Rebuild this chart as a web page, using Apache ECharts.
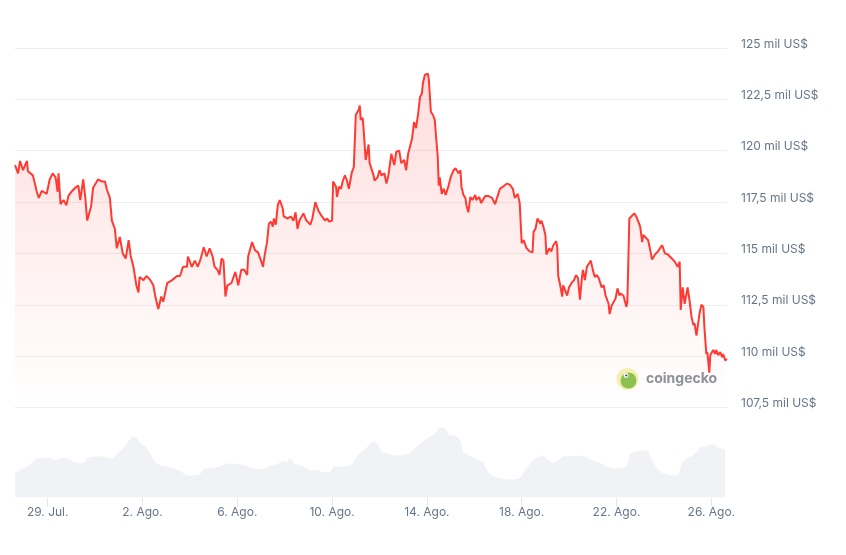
<!DOCTYPE html>
<html><head><meta charset="utf-8">
<script src="https://cdn.jsdelivr.net/npm/echarts@6/dist/echarts.min.js"></script>
<style>html,body{margin:0;padding:0;background:#fff}#c{width:846px;height:555px}</style>
</head><body><div id="c"></div>
<script>
// hours since 27 Jul 00:00, price in thousands of US$
const pricePoints = [
[15,119.3],[18,118.9],[20,119.5],[23,119.05],[27,119.5],[28,119.0],[33,118.8],[37,118.0],[39,117.7],[42,118.05],[47,117.9],[50,118.6],[53,118.9],[56,118.7],[58,118.0],[59,118.9],[61,117.4],[64,117.6],[67,117.35],[69,117.8],[72,118.0],[76,118.2],[79,118.3],[81,117.6],[84,118.6],[86,117.75],[88,116.6],[92,117.3],[94,118.2],[99,118.6],[103,118.5],[106,118.5],[108,118.1],[111,117.7],[113,116.6],[116,116.2],[118,115.25],[121,115.8],[124,115.0],[127,114.75],[130,115.65],[132,114.9],[135,114.3],[138,113.4],
[140,113.1],[141,113.85],[145,113.7],[148,113.9],[152,113.7],[155,113.45],[157,112.9],[160,112.3],[163,112.9],[165,112.65],[169,113.55],[174,113.7],[179,113.9],[182,113.9],[185,114.35],[189,114.35],[190,114.85],[194,114.35],[197,114.65],[200,114.35],[203,114.75],[206,115.3],[209,114.85],[212,115.25],[215,114.85],[217,114.35],[220,114.2],[222,113.95],[224,114.75],[226,114.65],[228,112.9],[230,113.45],[234,113.55],[238,114.1],[241,113.45],[244,114.2],[247,114.2],[250,113.95],[251,114.85],[255,115.55],[258,115.15],[261,115.05],[264,114.65],[266,114.35],
[268,115.0],[270,115.5],[272,116.45],[274,116.55],[276,116.3],[277,116.7],[279,116.4],[281,117.35],[283,117.6],[286,117.2],[287,116.8],[291,116.7],[294,116.8],[297,116.6],[299,117.0],[301,116.2],[303,116.6],[307,116.95],[310,116.6],[314,116.4],[316,116.7],[319,117.5],[322,117.1],[325,116.85],[329,116.6],[331,116.7],[333,116.55],[336,116.6],[337,118.5],[340,118.25],[341,117.75],[343,118.25],[345,118.15],[347,118.55],[349,118.8],[351,118.55],[353,118.15],[356,118.95],[358,119.2],[360,121.75],[363,122.0],[364,122.2],[365,121.5],[367,121.6],[368,121.0],[370,119.55],[372,120.05],[373,120.3],[374,119.4],[376,119.45],[378,118.8],[379,118.55],[382,118.7],[384,119.05],[386,118.8],[389,118.9],[391,118.4],
[393,118.8],[396,119.85],[399,119.3],[401,119.95],[404,120.0],[406,119.4],[409,119.55],[411,119.05],[413,119.85],[417,120.6],[419,121.4],[421,121.1],[423,121.75],[425,122.6],[427,122.8],[428,123.3],[430,123.7],[433,123.75],[434,123.45],[436,121.9],[438,121.75],[440,121.5],[441,120.85],[443,119.7],[444,118.3],[445,118.7],[447,117.9],[449,118.15],[451,117.85],[454,118.3],[456,118.7],[459,119.05],[461,119.15],[464,118.9],[466,119.05],[467,118.25],[469,117.85],[471,117.7],[472,117.35],[474,117.0],[476,117.75],[478,117.6],[481,117.85],[482,117.6],[485,117.75],[487,117.45],[491,117.8],[494,117.8],[498,117.7],[501,117.4],[504,117.85],
[506,118.15],[509,118.25],[513,118.4],[516,118.35],[519,118.15],[521,117.7],[524,117.9],[526,117.45],[528,115.5],[530,115.65],[533,115.25],[536,115.1],[539,115.05],[540,116.05],[542,116.2],[544,116.7],[547,116.45],[548,116.6],[550,116.3],[552,115.9],[553,114.95],[556,115.25],[558,115.1],[560,115.4],[563,115.6],[564,115.3],[565,113.9],[567,113.45],[569,112.9],[570,113.45],[572,113.2],[574,112.95],[576,113.35],[579,113.6],[581,113.7],[583,113.95],[585,113.8],[587,112.75],[589,113.85],[590,114.2],[592,113.7],[594,114.35],[596,114.5],[598,114.65],[600,114.2],[602,113.85],[604,113.95],[606,113.8],[609,113.35],[611,113.45],[613,112.95],[616,112.55],[617,112.05],[619,112.45],[621,112.45],[623,112.8],[625,113.3],[627,112.95],[628,113.05],[631,112.95],[634,112.4],[635,112.65],
[637,116.7],[639,116.8],[642,116.95],[644,116.8],[646,116.85],[648,116.3],[650,115.55],[651,115.9],[654,115.75],[656,115.65],[658,115.2],[660,114.7],[663,114.95],[666,115.1],[670,115.4],[671,115.3],[673,115.0],[676,114.95],[680,114.75],[683,114.6],[686,114.35],[688,114.6],[689,112.25],[691,113.35],[693,112.55],[696,113.35],[698,112.7],[700,111.9],[702,111.5],[703,111.6],[705,111.0],[706,111.35],[708,112.05],[710,112.5],[712,112.4],[713,111.4],[715,110.1],[716,110.2],[718,109.2],[719,110.05],[722,110.3],[724,110.1],[725,110.3],[727,110.05],[729,110.2],[731,109.95],[732,110.1],[734,109.8],[736,109.85]
];
// hours since 27 Jul 00:00, 24h volume in billions of US$
const volumePoints = [
[15,38],[20,41],[27,46],[33,53],[37,59],[44,59],[50,60],[55,56],[62,59],[67,59],[72,55],[77,52],[84,51],[88,59],[94,61],[101,62],[108,60],[114,59],[120,68],[125,74],[128,81],[133,90],[138,91],[141,83],[147,76],[152,66],[157,53],[162,48],[169,46],[175,44],[182,40],[189,33],[195,33],[202,35],[207,44],[216,44],[222,46],[229,51],[236,51],[243,50],[250,47],[256,44],[263,42],[270,44],[273,48],[280,50],[287,55],[290,52],[293,59],[298,51],[304,48],[310,44],[314,40],[320,42],[327,38],[334,38],[337,46],[344,46],[351,47],[357,51],[361,62],[368,71],[373,78],[378,85],[383,78],[386,68],[391,67],[398,63],[405,63],
[415,66],[420,74],[425,81],[430,87],[435,91],[440,96],[445,105],[450,104],[455,93],[461,93],[466,86],[469,67],[476,62],[482,57],[489,53],[494,38],[499,32],[506,29],[513,27],[521,27],[526,29],[530,38],[535,48],[540,57],[545,61],[550,63],[555,56],[560,51],[565,56],[570,62],[577,62],[584,62],[589,63],[594,60],[601,55],[607,52],[614,46],[621,44],[629,44],[634,46],[638,66],[641,68],[650,71],[656,70],[660,56],[665,44],[670,37],[675,35],[682,33],[687,35],[690,53],[695,59],[700,62],[705,68],[709,76],[714,76],[719,80],[724,78],[729,74],[734,72]
];
const dayTickHours = [48,144,240,336,432,528,624,720];
const dayTickLabels = ['29. Jul.','2. Ago.','6. Ago.','10. Ago.','14. Ago.','18. Ago.','22. Ago.','26. Ago.'];
const priceMin = 107.5, priceMax = 125, priceStep = 2.5;
const hourMin = 14.9, hourMax = 735.9;
const volumeMax = 135;

const labelColor = '#67758a';
const fontFam = 'Inter, "Noto Sans", sans-serif';
const chart = echarts.init(document.getElementById('c'), null, {renderer: 'canvas'});
const fmtPrice = v => String(v).replace('.', ',') + ' mil US$';

chart.setOption({
  animation: false,
  backgroundColor: '#fff',
  grid: [
    {left: 15, right: 119, top: 48, height: 359.5},
    {left: 15, right: 119, top: 407.5, height: 90}
  ],
  xAxis: [
    {type: 'value', gridIndex: 0, min: hourMin, max: hourMax, show: false},
    {type: 'value', gridIndex: 1, min: hourMin, max: hourMax,
      axisLine: {show: false}, splitLine: {show: false},
      axisTick: {show: true, customValues: dayTickHours, length: 9, lineStyle: {color: '#e3e6ea'}},
      axisLabel: {customValues: dayTickHours, formatter: v => dayTickLabels[dayTickHours.indexOf(v)],
        color: labelColor, fontSize: 12, fontFamily: fontFam, margin: 9}}
  ],
  yAxis: [
    {type: 'value', gridIndex: 0, position: 'right', min: priceMin, max: priceMax, interval: priceStep,
      axisLine: {show: false}, axisTick: {show: false},
      splitLine: {lineStyle: {color: '#eceef1', width: 1}},
      axisLabel: {formatter: fmtPrice, color: labelColor, fontSize: 12, fontFamily: fontFam,
        margin: 14, align: 'left', verticalAlign: 'bottom', lineHeight: 8}},
    {type: 'value', gridIndex: 1, min: 0, max: volumeMax, show: false}
  ],
  series: [
    {type: 'line', xAxisIndex: 1, yAxisIndex: 1, data: volumePoints, showSymbol: false,
      lineStyle: {width: 0}, areaStyle: {color: '#f0f2f5', opacity: 1}, silent: true},
    {type: 'line', xAxisIndex: 0, yAxisIndex: 0, data: pricePoints, showSymbol: false,
      lineStyle: {color: '#ff3a33', width: 2},
      areaStyle: {color: new echarts.graphic.LinearGradient(0, 0, 0, 1, [
        {offset: 0, color: 'rgba(255,58,51,0.24)'},
        {offset: 1, color: 'rgba(255,58,51,0.0)'}
      ])}}
  ],
  graphic: [
    {type: 'circle', shape: {cx: 627.5, cy: 379, r: 11}, style: {fill: '#f4eeb0'}, z: 10},
    {type: 'circle', shape: {cx: 628.5, cy: 380.5, r: 8}, style: {fill: '#8cc152'}, z: 11},
    {type: 'circle', shape: {cx: 626, cy: 375.5, r: 2.4}, style: {fill: '#ffffff'}, z: 12},
    {type: 'circle', shape: {cx: 626.3, cy: 375.5, r: 1.1}, style: {fill: '#3a3a3a'}, z: 13},
    {type: 'text', x: 646, y: 379, z: 10, style: {text: 'coingecko', font: 'bold 14px ' + fontFam,
      fill: '#8c9098', textVerticalAlign: 'middle'}}
  ]
});
</script></body></html>
